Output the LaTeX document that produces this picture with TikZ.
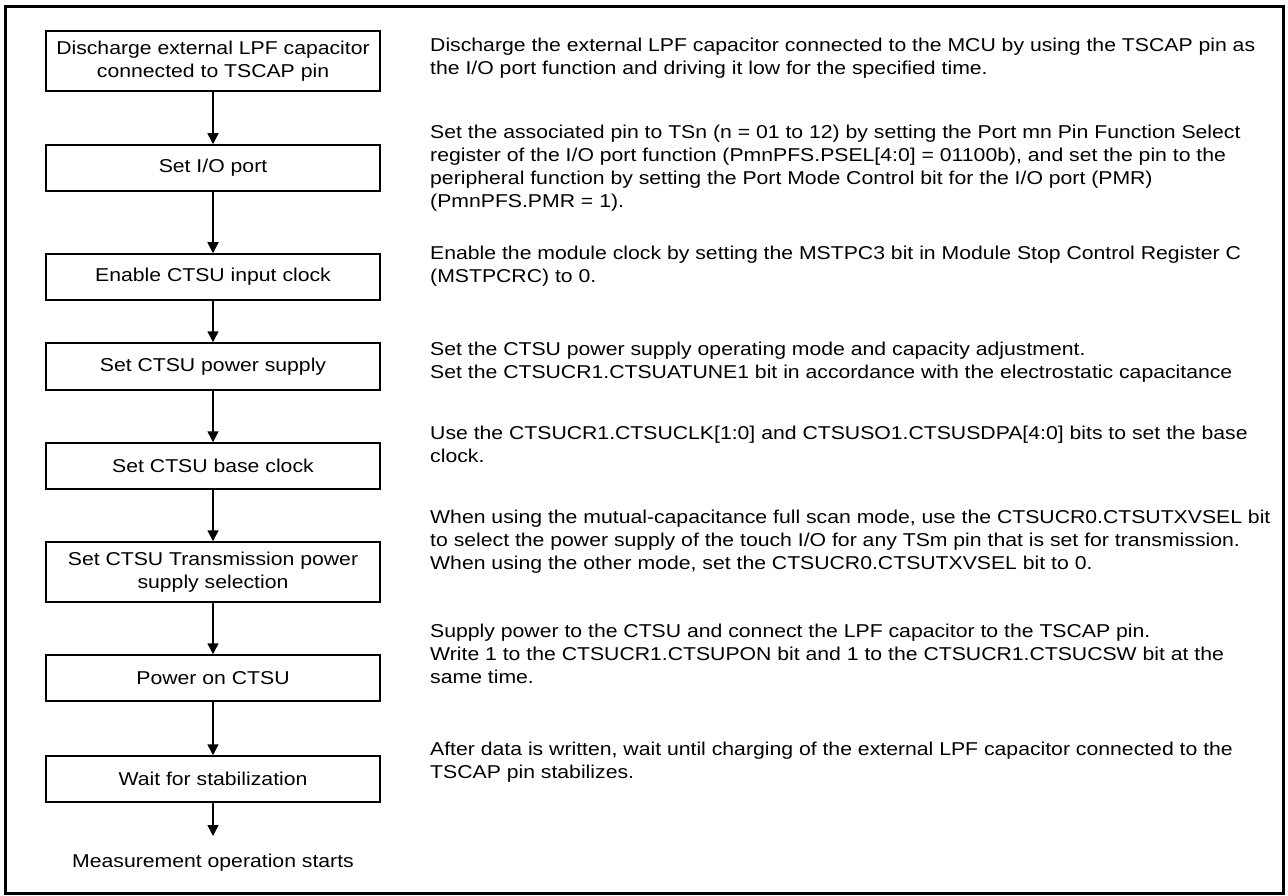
\documentclass[tikz,border=0pt]{standalone}
\usepackage{fontspec}
\setmainfont{Liberation Sans}[FakeStretch=1.14]
\usetikzlibrary{arrows.meta}
\newcommand\figfont{\fontsize{18.6}{23}\selectfont}
\begin{document}
\begin{tikzpicture}[x=1pt,y=-1pt,
  stepbox/.style={draw,line width=1.5pt,minimum width=334pt,inner sep=0pt,align=center,font=\figfont},
  desc/.style={anchor=north west,inner sep=0pt,align=left,font=\figfont},
  arr/.style={line width=1.5pt,-{Triangle[length=11pt,width=11pt]}}]
\useasboundingbox (0,0) rectangle (1288,896);
\draw[line width=2.5pt] (5.5,6.5) rectangle (1283.5,893.5);
% steps
\node[stepbox,minimum height=60pt] (b1) at (213,61) {Discharge external LPF capacitor\\connected to TSCAP pin};
\node[stepbox,minimum height=46pt] (b2) at (213,168) {Set I/O port};
\node[stepbox,minimum height=46pt] (b3) at (213,277) {Enable CTSU input clock};
\node[stepbox,minimum height=47pt] (b4) at (213,366.5) {Set CTSU power supply};
\node[stepbox,minimum height=46pt] (b5) at (213,466) {Set CTSU base clock};
\node[stepbox,minimum height=60pt] (b6) at (213,572) {Set CTSU Transmission power\\supply selection};
\node[stepbox,minimum height=46pt] (b7) at (213,678) {Power on CTSU};
\node[stepbox,minimum height=46pt] (b8) at (213,779) {Wait for stabilization};
\node[inner xsep=0pt,inner ysep=18pt,anchor=north,font=\figfont] (m) at (213,836) {Measurement operation starts};
\draw[arr] (b1.south) -- (b2.north);
\draw[arr] (b2.south) -- (b3.north);
\draw[arr] (b3.south) -- (b4.north);
\draw[arr] (b4.south) -- (b5.north);
\draw[arr] (b5.south) -- (b6.north);
\draw[arr] (b6.south) -- (b7.north);
\draw[arr] (b7.south) -- (b8.north);
\draw[arr] (b8.south) -- (m.north);
% descriptions (north = first baseline - 16.1)
\node[desc] (p1) at (430,35.4) {\strut Discharge the external LPF capacitor connected to the MCU by using the TSCAP pin as\\the I/O port function and driving it low for the specified time.};
\node[desc] (p2) at (430,122.4) {\strut Set the associated pin to TSn (n = 01 to 12) by setting the Port mn Pin Function Select\\register of the I/O port function (PmnPFS.PSEL[4:0] = 01100b), and set the pin to the\\peripheral function by setting the Port Mode Control bit for the I/O port (PMR)\\(PmnPFS.PMR = 1).};
\node[desc] (p3) at (430,243.4) {\strut Enable the module clock by setting the MSTPC3 bit in Module Stop Control Register C\\(MSTPCRC) to 0.};
\node[desc] (p4) at (430,339.4) {\strut Set the CTSU power supply operating mode and capacity adjustment.\\Set the CTSUCR1.CTSUATUNE1 bit in accordance with the electrostatic capacitance};
\node[desc] (p5) at (430,423.4) {\strut Use the CTSUCR1.CTSUCLK[1:0] and CTSUSO1.CTSUSDPA[4:0] bits to set the base\\clock.};
\node[desc] (p6) at (430,507.4) {\strut When using the mutual-capacitance full scan mode, use the CTSUCR0.CTSUTXVSEL bit\\to select the power supply of the touch I/O for any TSm pin that is set for transmission.\\When using the other mode, set the CTSUCR0.CTSUTXVSEL bit to 0.};
\node[desc] (p7) at (430,621.4) {\strut Supply power to the CTSU and connect the LPF capacitor to the TSCAP pin.\\Write 1 to the CTSUCR1.CTSUPON bit and 1 to the CTSUCR1.CTSUCSW bit at the\\same time.};
\node[desc] (p8) at (430,739.4) {\strut After data is written, wait until charging of the external LPF capacitor connected to the\\TSCAP pin stabilizes.};
\end{tikzpicture}
\end{document}
